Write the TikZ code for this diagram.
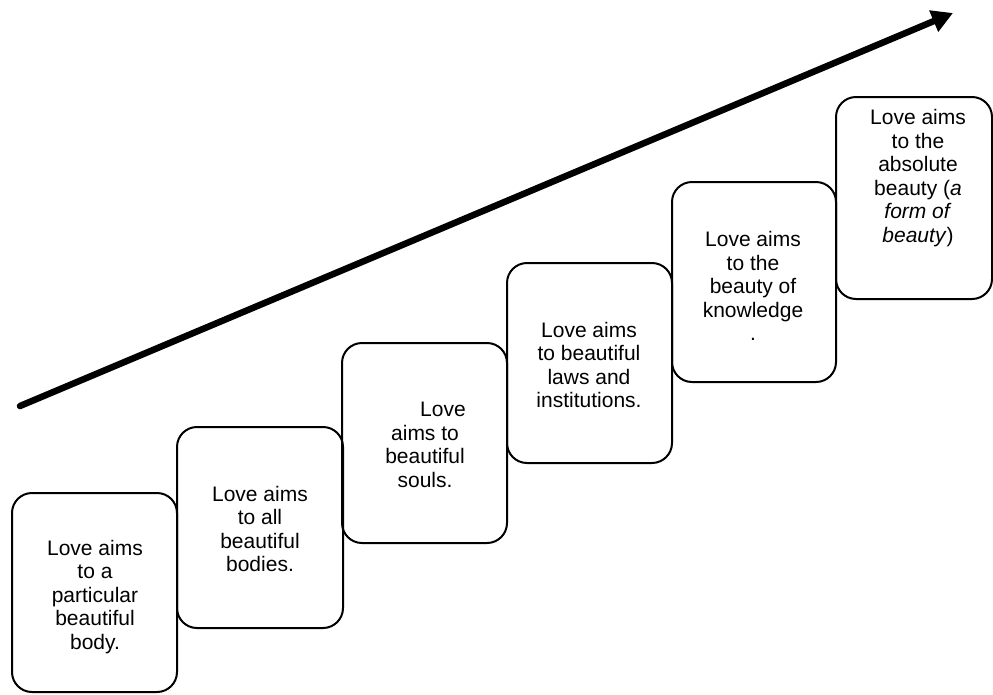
\documentclass[tikz,border=0pt]{standalone}
\usepackage{fontspec}
\setmainfont{Liberation Sans}
\usetikzlibrary{arrows.meta}
\begin{document}
\begin{tikzpicture}[x=1pt,y=-1pt,
  stepbox/.style={draw=black,line width=2pt,rounded corners=20pt},
  steptext/.style={align=center,font=\fontsize{21}{23.5}\selectfont,inner sep=0pt},
  bigarrow/.style={line width=6.5pt,line cap=round,-{Triangle[length=21pt,width=22pt]}}]
\useasboundingbox (0,0) rectangle (993,694);
% boxes
\draw[stepbox] (12,493) rectangle (177,692);
\draw[stepbox] (177,427) rectangle (343,628);
\draw[stepbox] (342,343) rectangle (507,543);
\draw[stepbox] (507,263) rectangle (672,463);
\draw[stepbox] (672,182) rectangle (836,382);
\draw[stepbox] (836,97) rectangle (992,299);
% texts
\node[steptext] (t1) at (95,597) {Love aims\\to a\\particular\\beautiful\\body.};
\node[steptext] (t2) at (260,529) {Love aims\\to all\\beautiful\\bodies.};
\node[steptext] (t3) at (425,445) {\hspace*{36pt}Love\\aims to\\beautiful\\souls.};
\node[steptext] (t4) at (589,365) {Love aims\\to beautiful\\laws and\\institutions.};
\node[steptext] (t5) at (753,286) {Love aims\\to the\\beauty of\\knowledge\\.};
\node[steptext] (t6) at (918,178) {Love aims\\to the\\absolute\\beauty (\textit{a}\\\textit{form of}\\\textit{beauty})};
% arrow
\coordinate (as) at (20,406);
\coordinate (ae) at (953,13);
\draw[bigarrow] (as) -- (ae);
\end{tikzpicture}
\end{document}
